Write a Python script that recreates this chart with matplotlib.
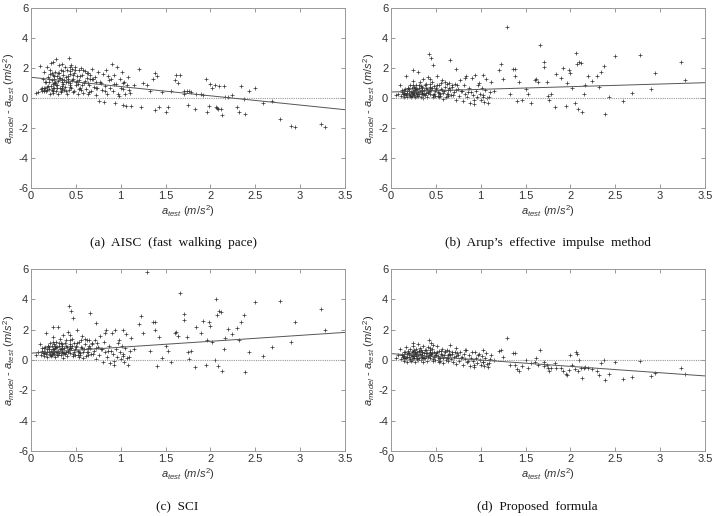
import matplotlib
matplotlib.use("Agg")
import matplotlib.pyplot as plt

plt.rcParams['font.family'] = ['Liberation Sans', 'DejaVu Sans']
plt.rcParams['mathtext.fontset'] = 'custom'
plt.rcParams['mathtext.rm'] = 'Liberation Sans'
plt.rcParams['mathtext.it'] = 'Liberation Sans:italic'
plt.rcParams['axes.unicode_minus'] = False

# measured acceleration (shared by all four panels)
a_test = [
    0.06, 0.08, 0.10, 0.11, 0.12, 0.13, 0.14, 0.15, 0.15, 0.16,
    0.17, 0.17, 0.18, 0.18, 0.19, 0.20, 0.20, 0.21, 0.21, 0.22,
    0.22, 0.23, 0.23, 0.24, 0.24, 0.25, 0.25, 0.26, 0.26, 0.27,
    0.27, 0.28, 0.28, 0.29, 0.29, 0.30, 0.30, 0.31, 0.31, 0.32,
    0.32, 0.33, 0.33, 0.34, 0.35, 0.35, 0.36, 0.36, 0.37, 0.38,
    0.38, 0.39, 0.40, 0.40, 0.41, 0.42, 0.42, 0.43, 0.44, 0.45,
    0.45, 0.46, 0.47, 0.48, 0.48, 0.49, 0.50, 0.51, 0.52, 0.53,
    0.54, 0.55, 0.56, 0.57, 0.58, 0.59, 0.60, 0.61, 0.62, 0.63,
    0.64, 0.65, 0.66, 0.67, 0.68, 0.70, 0.71, 0.72, 0.73, 0.75,
    0.76, 0.77, 0.79, 0.80, 0.81, 0.83, 0.84, 0.85, 0.87, 0.88,
    0.90, 0.91, 0.92, 0.94, 0.95, 0.96, 0.98, 0.99, 1.00, 1.01,
    1.02, 1.03, 1.04, 1.05, 1.06, 1.07, 1.08, 1.10, 1.12, 1.15,
    0.12, 0.16, 0.19, 0.21, 0.24, 0.26, 0.28, 0.30, 0.33, 0.34,
    0.37, 0.39, 0.41, 0.43, 0.44, 0.46, 0.47, 0.49, 0.51, 0.53,
    0.55, 0.57, 0.60, 0.62, 0.65, 0.69, 0.74, 0.78, 0.82, 0.86,
    0.18, 0.20, 0.23, 0.25, 0.27, 0.29, 0.31, 0.34, 0.36, 0.39,
    0.41, 0.44, 0.47, 0.50, 0.56, 0.58, 0.63, 0.68, 0.72, 0.93,
    0.97, 1.03, 1.09, 0.89, 0.66, 0.52, 0.43, 0.35, 0.26, 0.14,
    1.20, 1.23, 1.25, 1.29, 1.33, 1.36, 1.38, 1.38, 1.40, 1.43,
    1.46, 1.50, 1.53, 1.56, 1.60, 1.62, 1.64, 1.665, 1.70, 1.71,
    1.74, 1.75, 1.76, 1.78, 1.83, 1.84, 1.89, 1.92, 1.95, 1.96,
    1.98, 2.00, 2.02, 2.05, 2.06, 2.07, 2.08, 2.10, 2.12, 2.13,
    2.15, 2.16, 2.20, 2.24, 2.30, 2.32, 2.34, 2.37, 2.39, 2.43,
    2.50, 2.59, 2.69, 2.77, 2.90, 2.94, 3.23, 3.28,
]

# a_model - a_test for each method
err_aisc = [
    0.35, 0.40, 2.15, 0.60, 0.70, 1.30, 0.65, 0.55, 1.75, 0.70,
    1.10, 0.45, 2.10, 0.75, 1.40, 0.60, 1.05, 1.60, 0.30, 2.35,
    0.80, 1.20, 0.55, 2.40, 1.55, 0.95, 0.35, 1.30, 0.65, 1.75,
    1.00, 2.60, 0.50, 1.45, 0.85, 1.15, 0.25, 2.20, 1.65, 0.70,
    1.35, 0.40, 1.90, 1.05, 2.25, 0.60, 1.55, 0.95, 1.20, 2.05,
    0.75, 1.40, 0.30, 1.85, 1.10, 2.70, 0.55, 1.60, 1.00, 2.20,
    0.65, 1.95, 1.30, 0.45, 1.70, 2.05, 0.90, 1.45, 0.25, 1.85,
    1.20, 0.70, 2.00, 1.55, 0.35, 1.00, 1.80, 0.60, 1.35, 0.30,
    1.65, 0.90, 1.25, 0.50, 1.95, 0.75, 1.40, 0.20, 1.05, 1.75,
    -0.20, 1.10, 0.55, 1.60, -0.25, 0.80, 1.85, 0.30, 1.20, 0.65,
    2.25, 0.45, 1.55, -0.35, 0.95, 2.10, 0.15, 1.30, 0.70, 1.75,
    -0.45, 0.60, 1.05, 0.25, -0.50, 0.85, 1.40, 0.35, -0.55, 0.90,
    0.50, 1.05, 0.80, 1.90, 0.65, 1.50, 0.90, 1.70, 0.45, 1.25,
    0.55, 1.10, 1.50, 0.85, 2.10, 1.20, 0.40, 1.90, 1.15, 0.60,
    1.45, 0.85, 1.15, 1.70, 0.40, 1.25, 0.70, 1.00, 0.50, 1.50,
    0.55, 1.25, 1.65, 0.50, 1.10, 0.70, 1.35, 0.80, 1.80, 0.50,
    1.25, 0.75, 1.55, 1.05, 0.55, 1.90, 1.00, 1.25, 0.70, 0.95,
    0.30, 1.00, 0.55, 1.30, 1.55, 0.95, 1.80, 0.65, 1.00, 0.45,
    1.95, -0.60, 1.00, 0.90, 0.50, 1.30, 1.70, -0.80, 1.50, -0.60,
    0.40, -0.90, -0.60, 0.50, 1.20, 1.55, 1.00, 1.55, 0.50, 0.30,
    0.45, -0.45, 0.45, 0.40, -0.75, 0.30, 0.25, 0.20, 1.25, -0.90,
    -0.50, 0.95, 0.70, 0.90, -0.60, -0.65, -0.70, 0.80, -0.70, -1.10,
    0.80, 0.05, 0.10, 0.20, -0.60, -0.95, 0.80, -0.05, -1.05, 0.50,
    0.65, -0.30, -0.20, -1.40, -1.85, -1.90, -1.75, -1.95,
]

err_arup = [
    0.20, 0.30, 0.85, 0.15, 0.40, 0.25, 0.55, 0.10, 0.35, 0.60,
    1.50, 0.20, 0.45, 0.05, 0.70, 0.30, 0.50, 0.15, 0.85, 0.40,
    0.10, 0.65, 0.35, 0.25, 1.15, 1.85, 0.45, 0.20, 0.75, 0.55,
    0.05, 0.35, 0.90, 0.60, 0.15, 1.75, 0.40, 0.70, 0.25, 1.05,
    0.50, 0.10, 0.80, 0.30, 0.65, 0.45, 0.00, 1.25, 0.55, 0.20,
    0.85, 0.35, 0.60, 0.10, 1.40, 2.95, 0.45, 0.75, 0.25, 2.70,
    0.55, 1.05, 2.20, 0.30, 0.80, 0.15, 0.65, 1.50, 0.40, 0.05,
    0.90, 0.25, 0.60, 1.20, -0.05, 0.45, 0.75, 0.10, 0.95, 0.30,
    0.55, 1.00, 2.55, 0.20, 0.85, 0.40, 0.95, 1.95, -0.10, 0.60,
    0.15, 1.20, 0.45, -0.20, 0.90, 0.30, 1.50, 0.05, 0.65, -0.30,
    1.35, 0.20, -0.40, 1.55, 0.45, 0.05, 1.00, 0.30, -0.10, 0.70,
    0.10, 1.55, -0.25, 0.55, 1.30, 0.00, -0.35, 0.40, 1.10, 0.50,
    0.55, 0.30, 0.65, 0.20, 0.90, 0.40, 0.60, 0.15, 0.50, 0.75,
    0.25, 0.95, 0.35, 0.55, 1.25, 0.70, 0.10, 0.45, 0.85, 0.35,
    0.15, 0.55, 1.05, 0.30, 0.70, 0.20, 0.85, 0.50, 1.35, 0.40,
    0.35, 0.60, 0.15, 0.45, 0.70, 0.30, 0.85, 0.55, 0.25, 0.65,
    0.40, 0.95, 0.20, 0.60, 1.00, 0.35, 0.15, 0.75, 0.55, -0.15,
    0.85, 0.20, 0.05, 0.40, 0.55, 0.15, 0.70, 0.35, 0.50, 0.25,
    1.90, 2.30, 1.30, 4.75, 0.30, 1.95, 1.95, 1.50, -0.20, 1.10,
    -0.10, 0.60, 0.30, -0.30, 1.20, 1.30, 1.10, 3.55, 2.40, 2.05,
    1.10, 0.15, -0.10, 0.30, -0.60, 1.60, 1.35, 2.00, -0.55, 1.00,
    1.85, 1.70, 0.65, -0.30, 3.00, 2.30, -0.70, 2.40, 2.35, -0.90,
    0.25, 0.90, 1.45, 1.15, 1.50, 0.75, 1.75, 2.15, -1.05, 0.10,
    2.80, -0.20, 0.35, 2.90, 0.60, 1.70, 2.40, 1.20,
]

err_sci = [
    0.35, 0.50, 1.05, 0.30, 0.60, 0.45, 0.80, 0.25, 0.55, 0.85,
    1.75, 0.40, 0.70, 0.20, 0.95, 0.50, 0.75, 0.30, 1.15, 0.60,
    0.25, 0.90, 0.55, 0.45, 1.50, 2.20, 0.70, 0.40, 1.05, 0.80,
    0.20, 0.55, 1.20, 0.85, 0.35, 2.15, 0.60, 0.95, 0.45, 1.40,
    0.75, 0.30, 1.10, 0.50, 0.90, 0.70, 0.15, 1.65, 0.80, 0.40,
    1.15, 0.55, 0.85, 0.25, 1.85, 3.55, 0.70, 1.05, 0.45, 3.25,
    0.80, 1.40, 2.75, 0.50, 1.10, 0.35, 0.90, 1.95, 0.60, 0.20,
    1.20, 0.45, 0.85, 1.60, 0.10, 0.70, 1.05, 0.25, 1.30, 0.50,
    0.80, 1.35, 3.10, 0.40, 1.15, 0.60, 1.30, 2.45, 0.05, 0.85,
    0.35, 1.60, 0.70, -0.10, 1.20, 0.50, 1.95, 0.20, 0.90, -0.20,
    1.75, 0.40, -0.35, 2.00, 0.70, 0.20, 1.35, 0.50, 0.05, 0.95,
    0.25, 2.00, -0.15, 0.80, 1.70, 0.15, -0.30, 0.60, 1.45, 0.75,
    0.80, 0.50, 0.90, 0.40, 1.20, 0.60, 0.85, 0.30, 0.75, 1.05,
    0.45, 1.30, 0.55, 0.80, 1.65, 0.95, 0.25, 0.70, 1.15, 0.55,
    0.35, 0.80, 1.40, 0.50, 0.95, 0.40, 1.15, 0.75, 1.75, 0.60,
    0.55, 0.85, 0.35, 0.70, 0.95, 0.50, 1.15, 0.80, 0.45, 0.90,
    0.60, 1.30, 0.40, 0.85, 1.35, 0.55, 0.35, 1.05, 0.80, -0.05,
    1.15, 0.40, 0.20, 0.60, 0.80, 0.35, 0.95, 0.55, 0.75, 0.45,
    2.35, 2.90, 1.75, 5.80, 0.60, 2.50, 2.50, 1.95, -0.40, 1.50,
    0.10, 0.90, 0.60, -0.10, 1.75, 1.85, 1.60, 4.40, 3.05, 2.65,
    1.50, 0.55, 0.05, 0.60, -0.45, 2.20, 1.80, 2.60, -0.30, 1.30,
    2.50, 2.25, 1.20, 0.00, 4.00, 3.00, -0.40, 3.20, 3.15, -0.70,
    0.70, 1.45, 2.05, 1.70, 2.10, 1.35, 2.50, 2.95, -0.80, 0.55,
    3.80, 0.25, 0.85, 3.90, 1.20, 2.50, 3.35, 2.00,
]

err_proposed = [
    0.15, 0.30, 0.70, 0.05, 0.35, 0.20, 0.50, -0.05, 0.25, 0.55,
    0.85, 0.10, 0.40, -0.10, 0.60, 0.20, 0.45, 0.00, 0.75, 0.30,
    -0.05, 0.55, 0.25, 0.15, 0.90, 1.10, 0.35, 0.10, 0.65, 0.45,
    -0.15, 0.25, 0.70, 0.50, 0.05, 1.05, 0.30, 0.60, 0.15, 0.80,
    0.40, 0.00, 0.65, 0.20, 0.50, 0.35, -0.15, 0.90, 0.45, 0.10,
    0.65, 0.25, 0.45, -0.05, 0.85, 1.35, 0.35, 0.55, 0.15, 1.10,
    0.40, 0.75, 1.00, 0.20, 0.55, 0.00, 0.45, 0.90, 0.25, -0.15,
    0.60, 0.10, 0.40, 0.75, -0.20, 0.30, 0.50, 0.00, 0.65, 0.15,
    0.35, 0.60, 1.00, 0.05, 0.50, 0.20, 0.55, 0.80, -0.25, 0.35,
    -0.05, 0.55, 0.20, -0.35, 0.40, 0.05, 0.65, -0.15, 0.30, -0.40,
    0.50, -0.05, -0.45, 0.55, 0.15, -0.20, 0.40, 0.00, -0.30, 0.25,
    -0.15, 0.65, -0.40, 0.10, 0.45, -0.25, -0.45, 0.05, 0.35, 0.00,
    0.35, 0.15, 0.45, 0.05, 0.60, 0.25, 0.40, 0.00, 0.30, 0.50,
    0.10, 0.65, 0.20, 0.35, 0.80, 0.45, -0.05, 0.30, 0.55, 0.15,
    -0.05, 0.30, 0.60, 0.10, 0.40, -0.10, 0.45, 0.15, 0.65, -0.05,
    0.20, 0.40, 0.00, 0.30, 0.50, 0.15, 0.60, 0.35, 0.10, 0.45,
    0.25, 0.65, 0.05, 0.35, 0.60, 0.15, -0.05, 0.40, 0.25, -0.30,
    0.35, -0.10, -0.20, 0.15, 0.30, 0.00, 0.45, 0.20, 0.30, 0.10,
    0.60, 0.65, 0.20, 1.47, -0.30, 0.45, 0.45, -0.30, -0.60, -0.75,
    -0.40, 0.00, -0.55, -0.20, -0.10, 0.10, -0.30, 0.65, -0.10, -0.40,
    -0.35, -0.55, -0.70, -0.50, -0.20, -0.55, -0.55, -0.75, -0.90, -1.00,
    -0.65, 0.30, -0.30, -0.60, 0.55, 0.40, -0.70, 0.00, -0.55, -1.20,
    -0.50, -0.45, -0.50, -0.60, -0.70, -1.00, -0.20, 0.00, -1.35, -0.90,
    -0.10, -1.25, -1.15, -0.05, -1.05, -0.85, -0.50, -0.90,
]

captions = ['(a)  AISC  (fast  walking  pace)',
            '(b)  Arup\u2019s  effective  impulse  method',
            '(c)  SCI',
            '(d)  Proposed  formula']
# linear trend line: value at a_test = 0 and at a_test = 3.5
fit_start = [1.38, 0.40, 0.45, 0.42]
fit_end = [-0.78, 1.02, 1.82, -1.05]

errors = [err_aisc, err_arup, err_sci, err_proposed]

fig = plt.figure(figsize=(7.17, 5.16), dpi=100)
W, H = 717, 516
# axes boxes in pixels: left, top, right, bottom
boxes = [(31, 8, 345, 188), (391, 8, 705, 188),
         (31, 269, 345, 451), (391, 269, 705, 451)]
caption_pos = [(173, 243), (548, 243), (177, 507), (537, 507)]

for i in range(4):
    l, t, r, b = boxes[i]
    ax = fig.add_axes([l / W, 1 - b / H, (r - l) / W, (b - t) / H])
    ax.plot(a_test, errors[i], '+', color='#333333', ms=3.5, mew=0.5)
    ax.plot([0, 3.5], [0, 0], linestyle=(0, (1, 1.0)), color='#999999', lw=0.8)
    ax.plot([0, 3.5], [fit_start[i], fit_end[i]], color='#555555', lw=0.7)
    ax.set_xlim(0, 3.5)
    ax.set_ylim(-6, 6)
    ax.set_xticks([0, 0.5, 1, 1.5, 2, 2.5, 3, 3.5])
    ax.set_xticklabels(['0', '0.5', '1', '1.5', '2', '2.5', '3', '3.5'])
    ax.set_yticks([-6, -4, -2, 0, 2, 4, 6])
    ax.tick_params(direction='in', top=True, right=True, length=3, width=0.6,
                   color='#888888', labelsize=8, labelcolor='#333333', pad=2)
    for s in ax.spines.values():
        s.set_color('#999999')
        s.set_linewidth(0.7)
    ax.set_xlabel(r'$a_{test}\ (m/s^2)$', fontsize=8, color='#333333', labelpad=2)
    ax.set_ylabel(r'$a_{model}$ - $a_{test}\ (m/s^2)$', fontsize=8, color='#333333', labelpad=1)
    cx, cy = caption_pos[i]
    fig.text(cx / W, 1 - cy / H, captions[i], ha='center', va='center',
             family='Liberation Serif', fontsize=9.5, color='#111111')

fig.savefig('out.png', dpi=100)
